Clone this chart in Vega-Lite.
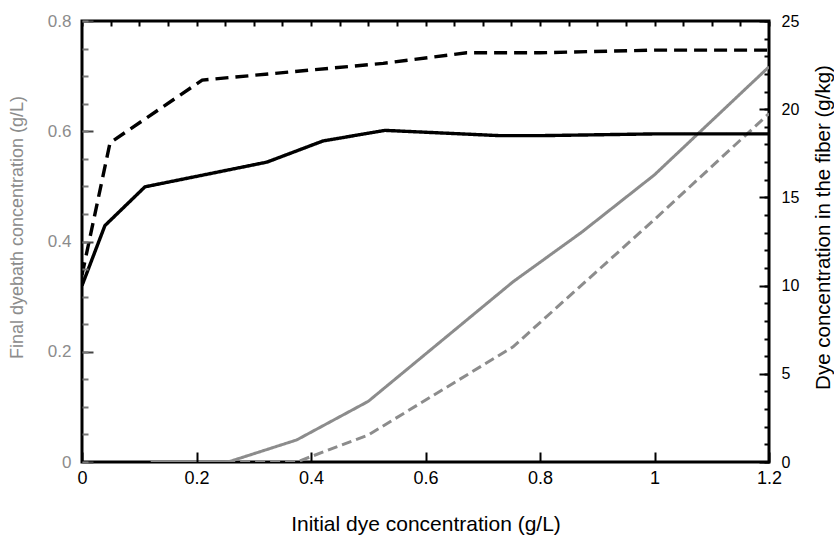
{
  "$schema": "https://vega.github.io/schema/vega-lite/v6.json",
  "autosize": "none",
  "width": 687,
  "height": 441,
  "padding": {"left": 82, "top": 21, "right": 65, "bottom": 73},
  "background": "white",
  "config": {
    "view": {"stroke": "black", "strokeWidth": 3},
    "font": "Liberation Sans"
  },
  "data": {
    "values": [
      {"x": 0.12, "y": 0, "s": "bath_solid"},
      {"x": 0.255, "y": 0, "s": "bath_solid"},
      {"x": 0.375, "y": 0.04, "s": "bath_solid"},
      {"x": 0.5, "y": 0.11, "s": "bath_solid"},
      {"x": 0.753, "y": 0.327, "s": "bath_solid"},
      {"x": 0.873, "y": 0.417, "s": "bath_solid"},
      {"x": 1.0, "y": 0.521, "s": "bath_solid"},
      {"x": 1.2, "y": 0.717, "s": "bath_solid"},
      {"x": 0.25, "y": 0, "s": "bath_dashed"},
      {"x": 0.375, "y": 0, "s": "bath_dashed"},
      {"x": 0.5, "y": 0.049, "s": "bath_dashed"},
      {"x": 0.753, "y": 0.209, "s": "bath_dashed"},
      {"x": 1.0, "y": 0.44, "s": "bath_dashed"},
      {"x": 1.2, "y": 0.632, "s": "bath_dashed"},
      {"x": 0, "y": 10.0, "s": "fiber_solid"},
      {"x": 0.04, "y": 13.4, "s": "fiber_solid"},
      {"x": 0.11, "y": 15.6, "s": "fiber_solid"},
      {"x": 0.323, "y": 17.0, "s": "fiber_solid"},
      {"x": 0.421, "y": 18.2, "s": "fiber_solid"},
      {"x": 0.529, "y": 18.8, "s": "fiber_solid"},
      {"x": 0.73, "y": 18.5, "s": "fiber_solid"},
      {"x": 0.8, "y": 18.5, "s": "fiber_solid"},
      {"x": 1.0, "y": 18.6, "s": "fiber_solid"},
      {"x": 1.2, "y": 18.6, "s": "fiber_solid"},
      {"x": 0, "y": 10.6, "s": "fiber_dashed"},
      {"x": 0.049, "y": 18.1, "s": "fiber_dashed"},
      {"x": 0.21, "y": 21.65, "s": "fiber_dashed"},
      {"x": 0.526, "y": 22.6, "s": "fiber_dashed"},
      {"x": 0.672, "y": 23.2, "s": "fiber_dashed"},
      {"x": 0.8, "y": 23.2, "s": "fiber_dashed"},
      {"x": 1.0, "y": 23.35, "s": "fiber_dashed"},
      {"x": 1.2, "y": 23.35, "s": "fiber_dashed"}
    ]
  },
  "layer": [
    {
      "transform": [{"filter": "indexof(datum.s, 'bath') === 0"}],
      "mark": {"type": "line", "color": "#8c8c8c", "strokeWidth": 3, "clip": true},
      "encoding": {
        "x": {
          "field": "x", "type": "quantitative",
          "scale": {"domain": [0, 1.2], "nice": false, "zero": false},
          "axis": {
            "grid": false,
            "zindex": 1,
            "domain": false,
            "offset": -10,
            "title": "Initial dye concentration (g/L)",
            "titleFont": "Liberation Sans",
            "titleFontWeight": "normal",
            "titleFontSize": 21,
            "titleColor": "black",
            "titleX": 343.5,
            "titleY": 72,
            "titleBaseline": "middle",
            "labelFont": "Liberation Sans",
            "labelFontSize": 18,
            "labelColor": "black",
            "labelFlush": false,
            "tickCount": 6,
            "labelExpr": "format(datum.value, '~g')",
            "tickColor": "black",
            "tickWidth": 2,
            "tickSize": 10,
            "labelPadding": 7
          }
        },
        "y": {
          "field": "y", "type": "quantitative",
          "scale": {"domain": [0, 0.8], "nice": false, "zero": false},
          "axis": {
            "orient": "left",
            "grid": false,
            "zindex": 1,
            "domain": false,
            "offset": -11,
            "title": "Final dyebath concentration (g/L)",
            "titleFont": "Liberation Sans",
            "titleFontWeight": "normal",
            "titleFontSize": 18,
            "titleColor": "#8c8c8c",
            "titleX": -76,
            "titleY": 206,
            "titleBaseline": "middle",
            "labelFont": "Liberation Sans",
            "labelFontSize": 17,
            "labelColor": "#8c8c8c",
            "labelFlush": false,
            "tickCount": 4,
            "labelExpr": "format(datum.value, '~g')",
            "tickColor": "#444444",
            "tickWidth": 2,
            "tickSize": 11,
            "labelPadding": 11
          }
        },
        "strokeDash": {
          "field": "s", "type": "nominal",
          "scale": {"domain": ["bath_solid", "bath_dashed"], "range": [[1, 0], [10, 5]]},
          "legend": null
        }
      }
    },
    {
      "transform": [{"filter": "indexof(datum.s, 'fiber') === 0"}],
      "mark": {"type": "line", "color": "black", "strokeWidth": 3.4, "clip": true},
      "encoding": {
        "x": {"field": "x", "type": "quantitative", "axis": null},
        "y": {
          "field": "y", "type": "quantitative",
          "scale": {"domain": [0, 25], "nice": false, "zero": false},
          "axis": {
            "orient": "right",
            "grid": false,
            "zindex": 1,
            "domain": false,
            "offset": -10,
            "title": "Dye concentration in the fiber (g/kg)",
            "titleFont": "Liberation Sans",
            "titleFontWeight": "normal",
            "titleFontSize": 20.5,
            "titleColor": "black",
            "titleAngle": 270,
            "titleX": 64,
            "titleY": 206,
            "titleBaseline": "middle",
            "labelFont": "Liberation Sans",
            "labelFontSize": 16,
            "labelColor": "black",
            "labelFlush": false,
            "tickCount": 5,
            "format": "d",
            "tickColor": "black",
            "tickWidth": 2,
            "tickSize": 10,
            "labelPadding": 12
          }
        },
        "strokeDash": {
          "field": "s", "type": "nominal",
          "scale": {"domain": ["fiber_solid", "fiber_dashed"], "range": [[1, 0], [13, 7]]},
          "legend": null
        }
      }
    },
    {
      "transform": [{"filter": "indexof(datum.s, 'bath') === 0"}],
      "mark": {"type": "line", "opacity": 0},
      "encoding": {
        "x": {
          "field": "x", "type": "quantitative",
          "axis": {
            "grid": false,
            "zindex": 1,
            "offset": -5,
            "title": null,
            "labels": false,
            "domain": false,
            "tickCount": 24,
            "tickColor": "black",
            "tickWidth": 2,
            "tickSize": 5
          }
        },
        "y": {
          "field": "y", "type": "quantitative",
          "scale": {"domain": [0, 0.8], "nice": false, "zero": false},
          "axis": {
            "orient": "left",
            "grid": false,
            "zindex": 1,
            "offset": -6,
            "title": null,
            "labels": false,
            "domain": false,
            "tickCount": 16,
            "tickColor": "#777777",
            "tickWidth": 2,
            "tickSize": 6
          }
        }
      }
    },
    {
      "transform": [{"filter": "indexof(datum.s, 'fiber') === 0"}],
      "mark": {"type": "line", "opacity": 0},
      "encoding": {
        "x": {"field": "x", "type": "quantitative", "axis": null},
        "y": {
          "field": "y", "type": "quantitative",
          "scale": {"domain": [0, 25], "nice": false, "zero": false},
          "axis": {
            "orient": "right",
            "grid": false,
            "zindex": 1,
            "offset": -5,
            "title": null,
            "labels": false,
            "domain": false,
            "tickCount": 25,
            "tickColor": "black",
            "tickWidth": 2,
            "tickSize": 5
          }
        }
      }
    }
  ],
  "resolve": {
    "scale": {"y": "independent", "strokeDash": "independent"},
    "axis": {"x": "independent", "y": "independent"}
  }
}
